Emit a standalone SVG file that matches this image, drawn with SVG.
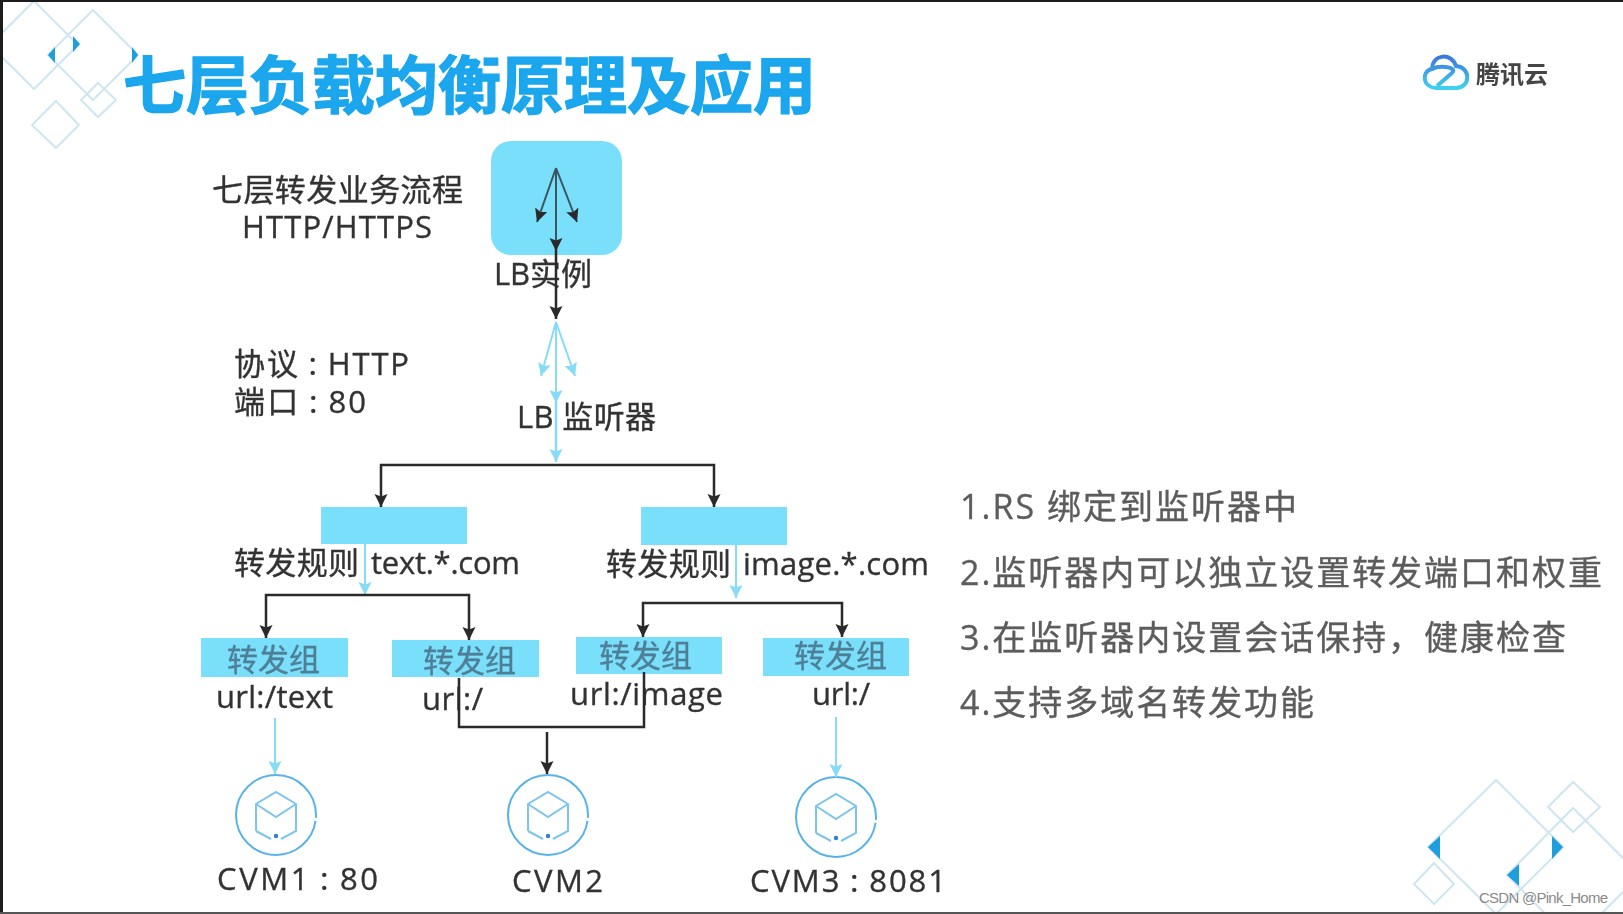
<svg xmlns="http://www.w3.org/2000/svg" width="1623" height="914" viewBox="0 0 1623 914">
<defs>
<style>
text{font-family:"Open Sans","Noto Sans CJK SC",sans-serif;fill:#333;stroke:#333;stroke-width:.35;font-size:31px}
.c{font-family:"Noto Sans CJK TC",sans-serif;font-size:26px}
.r{fill:#5c5c5c;stroke:#5c5c5c;font-size:34px}
.g{fill:#4f7f96;stroke:#4f7f96}
.box{fill:#7adffb}
.d{fill:none;stroke:#cfe6f0;stroke-width:2}
.t{fill:#1d9fdc}
.k{fill:none;stroke:#2b2b2b;stroke-width:2.5}
.kt{fill:none;stroke:#3a5560;stroke-width:2}
.l{fill:none;stroke:#86dcf6;stroke-width:2.5}
.lt{fill:none;stroke:#86dcf6;stroke-width:2}
.ring{fill:none;stroke:#58b4e6;stroke-width:2}
.cube{fill:none;stroke:#7cc6ec;stroke-width:2}
</style>
<marker id="ka" markerUnits="userSpaceOnUse" markerWidth="15" markerHeight="16" refX="13" refY="6.5" orient="auto"><path d="M0 0L13 6.5L0 13L2.5 6.5Z" fill="#2b2b2b"/></marker>
<marker id="la" markerUnits="userSpaceOnUse" markerWidth="15" markerHeight="16" refX="13" refY="6.5" orient="auto"><path d="M0 0L13 6.5L0 13L2.5 6.5Z" fill="#86dcf6"/></marker>
<linearGradient id="cg" x1="0" y1="0" x2="0" y2="1"><stop offset="0" stop-color="#3a78d8"/><stop offset="1" stop-color="#3fd0ee"/></linearGradient>
<filter id="soft" x="-2%" y="-2%" width="104%" height="104%"><feGaussianBlur stdDeviation="0.6"/></filter>
<g id="vm"><circle r="40" class="ring" stroke-dasharray="3 3 245"/><path class="cube" d="M-20 16V-11L0 -23L20 -11V16L5 24M-5 24L-20 16M-20 -11L0 2L20 -11"/><circle cy="21" r="2.2" fill="#2f7fd0"/></g>
</defs>
<rect width="1623" height="914" fill="#fff"/>
<g filter="url(#soft)">
<g id="decor-top-left">
<path class="d" d="M34 1L78 45L34 89L-10 45ZM93 10L138 55L93 100L48 55ZM98 83L116 100L98 117L81 100ZM56 101L79 125L56 148L32 125Z"/>
<path class="t" d="M73 36L80 44L73 52ZM55 47L48 55L55 63ZM132 47L138 55L132 63Z"/>
</g>
<g id="decor-bottom-right">
<path class="d" d="M1496 780L1563 847L1496 914L1428 847ZM1573 808L1640 875L1573 942L1507 875ZM1573 782L1600 807L1573 832L1548 807ZM1434 863L1454 884L1434 904L1414 884Z"/>
<path class="t" d="M1440 836L1428 847L1440 859ZM1552 836L1563 847L1552 859ZM1519 864L1507 875L1519 886Z"/>
</g>
<g id="title"><text x="123" y="108" style="font-size:63px;font-weight:700;fill:#1aa6ee;stroke:#1aa6ee;stroke-width:1.4" textLength="693" lengthAdjust="spacing">七层负载均衡原理及应用</text></g>
<g id="logo">
<path d="M1437 88H1456C1471 88 1471 67 1456 66C1452 53 1433 53 1432 69C1421 71 1422 88 1437 88ZM1437 86L1452 73C1458 67 1440 65 1432 69" fill="none" stroke="url(#cg)" stroke-width="4"/>
<text x="1476" y="83" style="font-size:24px;font-weight:700;fill:#444;stroke:none" textLength="72" lengthAdjust="spacing">腾讯云</text>
</g>
<g id="lb-instance">
<rect class="box" x="491" y="141" width="131" height="114" rx="20"/>
<text x="494" y="285" textLength="98" lengthAdjust="spacing">LB实例</text>
</g>
<g id="flow-label">
<text x="212" y="201" textLength="251" lengthAdjust="spacing">七层转发业务流程</text>
<text x="242" y="238" textLength="190" lengthAdjust="spacing">HTTP/HTTPS</text>
</g>
<g id="listener-config">
<text x="234" y="375" textLength="175" lengthAdjust="spacing">协议<tspan class="c" dy="1">：</tspan><tspan dy="-1">HTTP</tspan></text>
<text x="234" y="413" textLength="132" lengthAdjust="spacing">端口<tspan class="c" dy="1">：</tspan><tspan dy="-1">80</tspan></text>
</g>
<g id="listener"><text x="517" y="428" textLength="139" lengthAdjust="spacing">LB 监听器</text></g>
<g id="rule-text">
<rect class="box" x="321" y="507" width="146" height="37"/>
<text y="574"><tspan x="234" textLength="125" lengthAdjust="spacing">转发规则</tspan> <tspan x="371" textLength="149" lengthAdjust="spacing">text.*.com</tspan></text>
</g>
<g id="rule-image">
<rect class="box" x="641" y="507" width="146" height="38"/>
<text y="575"><tspan x="606" textLength="125" lengthAdjust="spacing">转发规则</tspan> <tspan x="743" textLength="186" lengthAdjust="spacing">image.*.com</tspan></text>
</g>
<g id="group-1">
<rect class="box" x="201" y="638" width="147" height="39"/>
<text class="g" x="227" y="671" textLength="93" lengthAdjust="spacing">转发组</text>
<text x="216" y="708" textLength="117" lengthAdjust="spacing">url:/text</text>
</g>
<g id="group-2">
<rect class="box" x="392" y="640" width="147" height="37"/>
<text class="g" x="423" y="672" textLength="93" lengthAdjust="spacing">转发组</text>
<text x="422" y="710" textLength="61" lengthAdjust="spacing">url:/</text>
</g>
<g id="group-3">
<rect class="box" x="576" y="637" width="146" height="37"/>
<text class="g" x="599" y="667" textLength="93" lengthAdjust="spacing">转发组</text>
<text x="570" y="705" textLength="153" lengthAdjust="spacing">url:/image</text>
</g>
<g id="group-4">
<rect class="box" x="763" y="638" width="146" height="38"/>
<text class="g" x="794" y="667" textLength="93" lengthAdjust="spacing">转发组</text>
<text x="812" y="705" textLength="58" lengthAdjust="spacing">url:/</text>
</g>
<g id="cvm1"><use href="#vm" x="276" y="815"/><text x="217" y="890" textLength="161" lengthAdjust="spacing">CVM1<tspan class="c" dy="1">：</tspan><tspan dy="-1">80</tspan></text></g>
<g id="cvm2"><use href="#vm" x="548" y="815"/><text x="512" y="892" textLength="91" lengthAdjust="spacing">CVM2</text></g>
<g id="cvm3"><use href="#vm" x="836" y="817"/><text x="750" y="892" textLength="196" lengthAdjust="spacing">CVM3<tspan class="c" dy="1">：</tspan><tspan dy="-1">8081</tspan></text></g>
<g id="notes">
<text class="r" x="960" y="519" textLength="337" lengthAdjust="spacing">1.RS 绑定到监听器中</text>
<text class="r" x="960" y="585" textLength="642" lengthAdjust="spacing">2.监听器内可以独立设置转发端口和权重</text>
<text class="r" x="960" y="650" textLength="606" lengthAdjust="spacing">3.在监听器内设置会话保持，健康检查</text>
<text class="r" x="960" y="715" textLength="354" lengthAdjust="spacing">4.支持多域名转发功能</text>
</g>
<g id="connectors">
<path class="kt" marker-end="url(#ka)" d="M556 168L537 222"/>
<path class="kt" marker-end="url(#ka)" d="M556 168L577 222"/>
<path class="kt" marker-end="url(#ka)" d="M556 168V251"/>
<path class="k" marker-end="url(#ka)" d="M556 245V319"/>
<path class="lt" marker-end="url(#la)" d="M556 322L541 376"/>
<path class="lt" marker-end="url(#la)" d="M556 322L575 376"/>
<path class="lt" marker-end="url(#la)" d="M556 322V403"/>
<path class="l" marker-end="url(#la)" d="M556 395V462"/>
<path class="k" marker-end="url(#ka)" d="M556 465H381V507"/>
<path class="k" marker-end="url(#ka)" d="M556 465H714V507"/>
<path class="lt" marker-end="url(#la)" d="M365 544V595"/>
<path class="lt" marker-end="url(#la)" d="M736 545V598"/>
<path class="k" marker-end="url(#ka)" d="M365 595H266V638"/>
<path class="k" marker-end="url(#ka)" d="M365 595H469V640"/>
<path class="k" marker-end="url(#ka)" d="M736 603H643V637"/>
<path class="k" marker-end="url(#ka)" d="M736 603H842V637"/>
<path class="k" d="M459 678V727H644V672"/>
<path class="k" marker-end="url(#ka)" d="M547 732V774"/>
<path class="lt" marker-end="url(#la)" d="M275 718V774"/>
<path class="lt" marker-end="url(#la)" d="M836 717V777"/>
</g>
</g>
<g id="frame">
<rect width="1623" height="2" fill="#1c1c1c"/>
<rect width="3" height="914" fill="#1c1c1c"/>
<rect y="912" width="1623" height="2" fill="#555"/>
</g>
<g id="watermark"><text x="1479" y="903" style="font-family:'Liberation Sans',sans-serif;font-size:15px;fill:#8a8a8a;stroke:none" textLength="129" lengthAdjust="spacing">CSDN @Pink_Home</text></g>
</svg>
